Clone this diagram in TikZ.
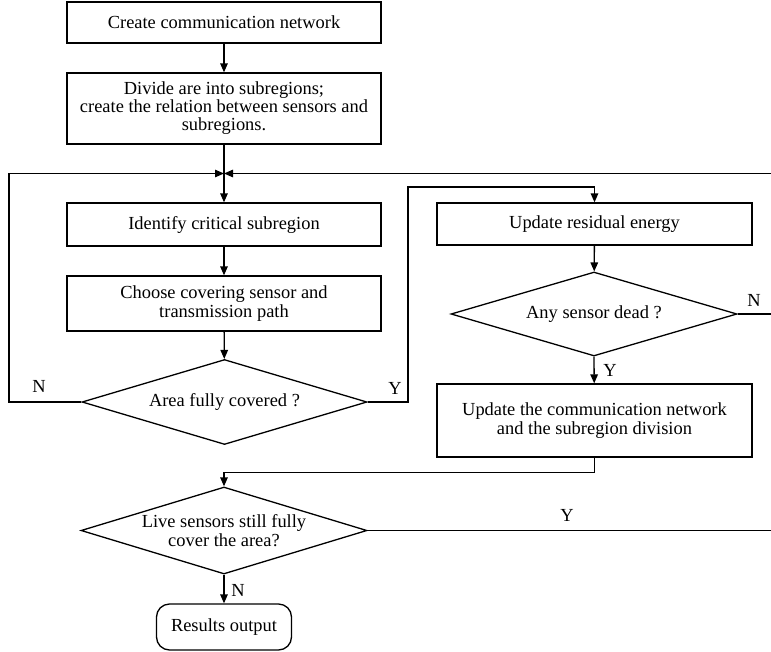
\documentclass[tikz,border=0pt]{standalone}
\usepackage{fontspec}
\setmainfont{Liberation Serif}
\usepackage{tikz}
\usetikzlibrary{arrows.meta,shapes.geometric}

\begin{document}
\begin{tikzpicture}[x=10bp,y=10bp]
\tikzstyle{every node}+=[inner sep=0pt, font=\fontsize{18.5}{19.5}\selectfont]
\tikzstyle{proc}=[draw, line width=1.3bp, align=center, minimum width=314bp]
\tikzstyle{decide}=[draw, line width=1.3bp, shape=diamond, align=center, aspect=3.3]
\tikzstyle{arr}=[line width=1.3bp, -{Triangle[length=9bp,width=7.5bp]}]
\useasboundingbox (0,0) rectangle (77.1,-65.2);
% left column
\node [proc, minimum height=41bp] (create) at (22.4,-2.25) {Create communication network};
\node [proc, minimum height=71bp, font=\fontsize{18.5}{18}\selectfont] (divide) at (22.4,-10.85) {Divide are into subregions;\\create the relation between sensors and\\subregions.};
\coordinate (J) at (22.4,-17.35);
\node [proc, minimum height=43bp] (identify) at (22.4,-22.45) {Identify critical subregion};
\node [proc, minimum height=55bp] (choose) at (22.4,-30.35) {Choose covering sensor and\\transmission path};
\node [decide, minimum width=285bp, minimum height=85bp] (area) at (22.45,-40.2) {Area fully covered ?};
% right column
\node [proc, minimum width=315bp, minimum height=42bp] (upres) at (59.45,-22.4) {Update residual energy};
\node [decide, minimum width=286bp, minimum height=84bp] (dead) at (59.4,-31.4) {Any sensor dead ?};
\node [proc, minimum width=315bp, minimum height=73bp] (upnet) at (59.45,-42.05) {Update the communication network\\and the subregion division};
% bottom
\node [decide, minimum width=286bp, minimum height=87bp] (live) at (22.4,-53.05) {Live sensors still fully\\cover the area?};
\node [draw, line width=1.3bp, rounded corners=13bp, minimum width=135bp, minimum height=46bp] (result) at (22.4,-62.7) {Results output};
% turning points
\coordinate (nturn) at (0.9,-17.35);
\coordinate (yturn) at (40.8,-18.7);
\coordinate (redge) at (77.1,-17.35);
\coordinate (nedge) at (77.1,-31.4);
\coordinate (yedge) at (77.1,-53.05);
% labels
\node (nlab1) at (3.9,-38.6) {N};
\node (ylab1) at (39.5,-38.8) {Y};
\node (nlab2) at (75.4,-30.0) {N};
\node (ylab2) at (61.0,-37.0) {Y};
\node (ylab3) at (56.7,-51.5) {Y};
\node (nlab3) at (23.8,-59.0) {N};
% connectors
\draw [arr] (create) -- (divide);
\draw [line width=1.3bp] (divide) -- (J);
\draw [arr] (J) -- (identify);
\draw [arr] (identify) -- (choose);
\draw [arr] (choose) -- (area);
\draw [arr] (area.west) -| (nturn) -- (J);
\draw [arr] (redge) -- (J);
\draw [arr] (area.east) -| (yturn) -| (upres.north);
\draw [arr] (upres) -- (dead);
\draw [line width=1.3bp] (dead.east) -- (nedge);
\draw [arr] (dead.south) -- (upnet);
\draw [arr] (upnet.south) -- ++(0,-1.5) -| (live.north);
\draw [line width=1.3bp] (live.east) -- (yedge);
\draw [arr] (live.south) -- (result);
\end{tikzpicture}
\end{document}
